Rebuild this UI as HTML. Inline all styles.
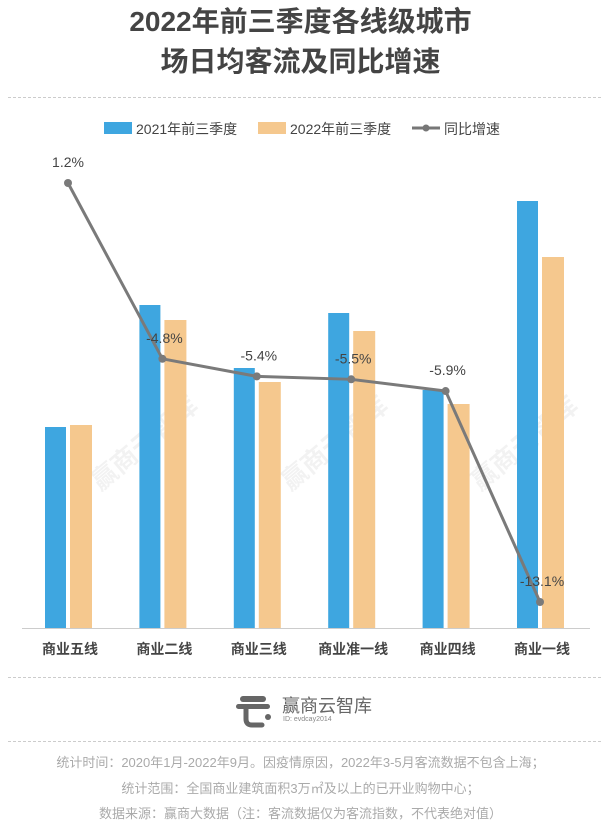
<!DOCTYPE html>
<html><head><meta charset="utf-8"><style>
body{margin:0;width:601px;height:829px;background:#fff;font-family:"Liberation Sans","Noto Sans CJK SC",sans-serif;overflow:hidden;position:relative}
.t{position:absolute;left:0;width:601px;text-align:center}
.dash{position:absolute;left:8px;width:593px;border-top:1px dashed #ccc}
</style></head><body>
<div class="t" style="top:2px;font-size:28px;font-weight:bold;color:#444;line-height:40px">2022年前三季度各线级城市<br>场日均客流及同比增速</div>
<div class="dash" style="top:97px"></div>
<svg id="c" width="601" height="680" style="position:absolute;left:0;top:0"></svg>
<div class="dash" style="top:677px"></div>
<div style="position:absolute;left:236px;top:690px;width:140px;height:40px">
<svg width="40" height="40"><rect x="4" y="6" width="26" height="6" rx="3" fill="#666"/><rect x="0" y="14" width="34" height="5" rx="2.5" fill="#666"/><path d="M10 19 v10 q0 6 6 6 h10" stroke="#666" stroke-width="5" fill="none" stroke-linecap="round"/><circle cx="32" cy="27" r="3" fill="#666"/></svg>
<div style="position:absolute;left:46px;top:2px;font-size:18px;color:#666">赢商云智库</div>
<div style="position:absolute;left:47px;top:26px;font-size:7px;color:#888">ID: evdcay2014</div>
</div>
<div class="dash" style="top:741px"></div>
<div class="t" style="top:752px;font-size:13px;color:#aaa">统计时间：2020年1月-2022年9月。因疫情原因，2022年3-5月客流数据不包含上海；</div>
<div class="t" style="top:778px;font-size:13px;color:#aaa">统计范围：全国商业建筑面积3万㎡及以上的已开业购物中心；</div>
<div class="t" style="top:803px;font-size:13px;color:#aaa">数据来源：赢商大数据（注：客流数据仅为客流指数，不代表绝对值）</div>
<script>
const categories=["商业五线","商业二线","商业三线","商业准一线","商业四线","商业一线"];
const v2021=[201,323,260,315,238,427];
const v2022=[203,308,246,297,224,371];
const growth=[1.2,-4.8,-5.4,-5.5,-5.9,-13.1];
const growthLabels=["1.2%","-4.8%","-5.4%","-5.5%","-5.9%","-13.1%"];
const svg=document.getElementById('c');const NS='http://www.w3.org/2000/svg';
function mk(t,a,txt){const e=document.createElementNS(NS,t);for(const k in a)e.setAttribute(k,a[k]);if(txt!=null)e.textContent=txt;svg.appendChild(e);return e;}
const base=628;
function yb(v){return base-v;}
function yl(v){return 183+(1.2-v)*29.3;}
function xc(i){return 68+i*94.4;}
// watermarks
for(let i=0;i<3;i++){const w=mk('text',{x:150+i*190,y:450,'font-size':26,'font-weight':'bold',fill:'#000','fill-opacity':0.05,transform:`rotate(-40 ${150+i*190} 450)`,'text-anchor':'middle'},'赢商云智库');

}
// legend
let g=mk('rect',{x:104,y:122,width:28,height:12,fill:'#3ea6e0'});


g=mk('text',{x:136,y:134,'font-size':14,fill:'#444'},'2021年前三季度');


g=mk('rect',{x:258,y:122,width:28,height:12,fill:'#f5c88e'});


g=mk('text',{x:290,y:134,'font-size':14,fill:'#444'},'2022年前三季度');


g=mk('line',{x1:412,y1:128,x2:440,y2:128,stroke:'#777','stroke-width':3});


g=mk('circle',{cx:426,cy:128,r:3.5,fill:'#777'});


g=mk('text',{x:444,y:134,'font-size':14,fill:'#444'},'同比增速');


categories.forEach((c,i)=>{
 const x=xc(i);
 let b=mk('rect',{x:x-23,y:yb(v2021[i]),width:21,height:v2021[i],fill:'#3ea6e0'});
 
 
 b=mk('rect',{x:x+2,y:yb(v2022[i]),width:22,height:v2022[i],fill:'#f5c88e'});
 
 
 const t=mk('text',{x:x+2,y:654,'font-size':14,'font-weight':'bold',fill:'#444','text-anchor':'middle'},c);
 
 
});
const ax=mk('line',{x1:22,y1:base+0.5,x2:590,y2:base+0.5,stroke:'#ccc'});


const pl=mk('polyline',{points:growth.map((v,i)=>xc(i)+','+yl(v)).join(' '),fill:'none',stroke:'#7a7a7a','stroke-width':3});


growth.forEach((v,i)=>{
 const p=mk('circle',{cx:xc(i),cy:yl(v),r:4,fill:'#7a7a7a'});
 
 
 const l=mk('text',{x:xc(i)+(i==0?0:2),y:yl(v)-16,'font-size':14,fill:'#444','text-anchor':'middle'},growthLabels[i]);
 
 
});
</script>
</body></html>
